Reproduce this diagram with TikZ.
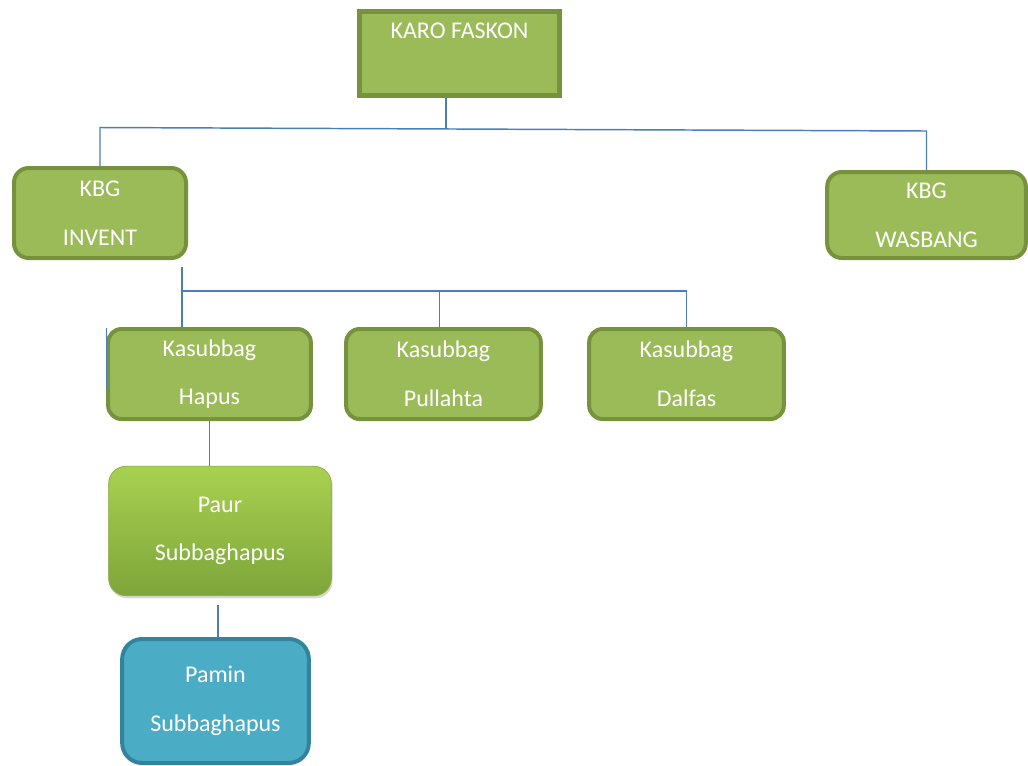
\documentclass[tikz,border=0pt]{standalone}
\usepackage{fontspec}
\setmainfont{Carlito}
\usepackage{tikz}
\usetikzlibrary{calc,shadows}
\definecolor{boxgreen}{HTML}{9BBB59}
\definecolor{boxedge}{HTML}{76923C}
\definecolor{wireblue}{HTML}{4A7EBB}
\definecolor{paurtop}{HTML}{A9D150}
\definecolor{paurbot}{HTML}{7DA53A}
\definecolor{paurline}{HTML}{8CB144}
\definecolor{paminfill}{HTML}{4BACC6}
\definecolor{paminedge}{HTML}{31849B}

\begin{document}
\begin{tikzpicture}[x=0.75pt, y=-0.75pt,
    unit/.style={draw=boxedge, fill=boxgreen, line width=3pt, rounded corners=10pt, align=center, text=white, inner sep=0pt, font=\fontsize{18}{36.5}\selectfont},
    head/.style={unit, line width=3.75pt, sharp corners, minimum width=150pt, minimum height=63pt, text height=20pt, text depth=43pt},
    link/.style={draw=wireblue, line width=1.1pt}]
    \useasboundingbox (0,0) rectangle (1028,765);
    % Boxes
    \node[head] (karo) at (459.5,53.5) {KARO FASKON};
    \node[unit, minimum width=129pt, minimum height=67.5pt, rounded corners=11pt] (invent) at (100,213) {KBG\\INVENT};
    \node[unit, minimum width=149pt, minimum height=64.5pt, rounded corners=11pt] (wasbang) at (926.5,215) {KBG\\WASBANG};
    \node[unit, minimum width=152pt, minimum height=67.5pt] (hapus) at (209.5,374) {Kasubbag\\Hapus};
    \node[unit, minimum width=146pt, minimum height=67.5pt] (pullahta) at (443.5,374) {Kasubbag\\Pullahta};
    \node[unit, minimum width=146pt, minimum height=67.5pt] (dalfas) at (686.5,374) {Kasubbag\\Dalfas};
    \node[unit, draw=paurline, line width=0.6pt, top color=paurtop, bottom color=paurbot, rounded corners=13pt, minimum width=167pt, minimum height=97pt, drop shadow={opacity=0.3, shadow xshift=1pt, shadow yshift=-2pt}] (paur) at (220,531) {Paur\\Subbaghapus};
    \node[unit, draw=paminedge, fill=paminfill, rounded corners=15pt, minimum width=140pt, minimum height=93pt] (pamin) at (215.5,701) {Pamin\\Subbaghapus};
    % Links
    \coordinate (busL) at (103,127.5);
    \coordinate (busR) at (925,131);
    \coordinate (subbus) at (182,291);
    \draw[link] ([xshift=-10pt]karo.south) -- ([xshift=-10pt]karo.south |- 0,129.3);
    \draw[link] (invent.north) -- (invent.north |- busL) -- (wasbang.north |- busR) -- (wasbang.north);
    \draw[link] ([yshift=-5pt]invent.south -| subbus) -- (subbus |- hapus.north);
    \draw[link] (subbus) -- (dalfas.north |- subbus) -- (dalfas.north);
    \draw[link] ([xshift=-3pt]pullahta.north |- subbus) -- ([xshift=-3pt]pullahta.north);
    \draw[link, line width=0.8pt] ([xshift=0.5pt,yshift=-1pt]hapus.north west) -- ([xshift=0.5pt,yshift=-47pt]hapus.north west);
    \draw[link] (hapus.south) -- (hapus.south |- paur.north);
    \draw[link] ([xshift=-1.5pt,yshift=-7pt]paur.south) -- ([xshift=-1.5pt]paur.south |- pamin.north);
\end{tikzpicture}
\end{document}
